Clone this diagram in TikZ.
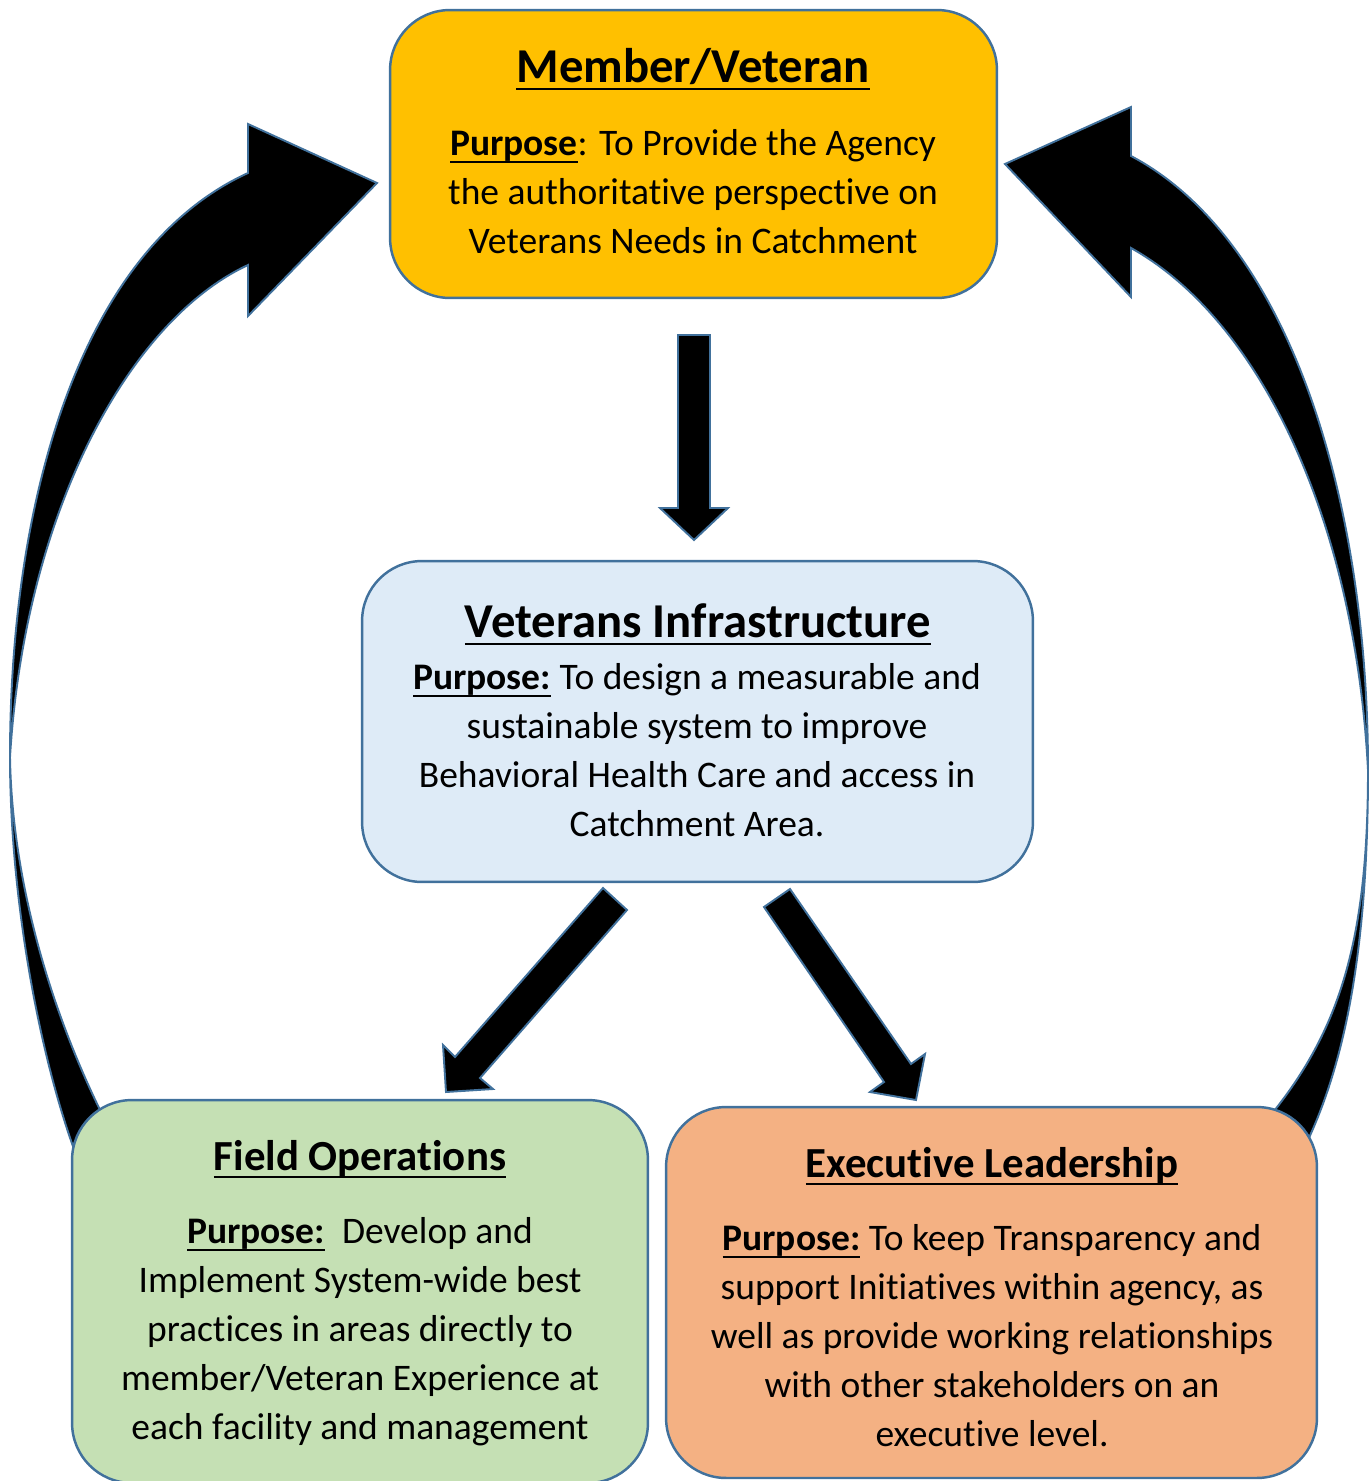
\documentclass[tikz,border=0pt]{standalone}
\usepackage{fontspec}
\setmainfont{Carlito}[Ligatures=NoCommon]
\newsavebox\ulbox
\newcommand{\ulx}[1]{\sbox\ulbox{#1}\rlap{\rule[-4.75pt]{\wd\ulbox}{1.5pt}}\usebox\ulbox}
\definecolor{edgeblue}{HTML}{41719C}
\definecolor{memgold}{HTML}{FFC000}
\definecolor{infrablue}{HTML}{DEEBF7}
\definecolor{fieldgreen}{HTML}{C5E0B4}
\definecolor{execorange}{HTML}{F4B183}
\newcommand{\purp}{\ulx{\textbf{Purpose:}}}
\tikzset{
  panel/.style={draw=edgeblue, line width=1.4pt, rounded corners=1.2cm, inner sep=0pt},
  blockarrow/.style={fill=black, draw=edgeblue, line width=1.1pt, line join=miter},
  heading/.style={anchor=base, inner sep=0pt, font=\bfseries\fontsize{27.7pt}{32pt}\selectfont},
  subheading/.style={anchor=base, inner sep=0pt, font=\bfseries\fontsize{24.4pt}{29pt}\selectfont},
  bodyline/.style={anchor=base, inner sep=0pt, font=\fontsize{21.35pt}{28pt}\selectfont}
}
\begin{document}
\begin{tikzpicture}[x=0.02cm, y=-0.02cm]
\useasboundingbox (0,0) rectangle (1372,1481);

% curved arrows back to the top
\draw[blockarrow] (377,183) -- (248,124) -- (248,173)
  .. controls (80,250) and (10,500) .. (10,757)
  .. controls (10,900) and (40,1060) .. (78,1160)
  -- (104,1118)
  .. controls (50,1010) and (12,880) .. (10,757)
  .. controls (25,510) and (130,320) .. (248,265)
  -- (248,316) -- cycle;
\draw[blockarrow] (1005,164) -- (1131,107) -- (1131,156)
  .. controls (1290,240) and (1368,500) .. (1368,770)
  .. controls (1368,950) and (1345,1060) .. (1308,1140)
  -- (1270,1116)
  .. controls (1340,1030) and (1368,940) .. (1368,770)
  .. controls (1355,520) and (1260,320) .. (1131,248)
  -- (1131,297) -- cycle;

% straight arrows
\draw[blockarrow] (678,335) -- (710,335) -- (710,508) -- (728,508) -- (694,540) -- (660,508) -- (678,508) -- cycle;
\draw[blockarrow] (603,888) -- (627,910) -- (480,1078) -- (493,1089) -- (446,1092) -- (443,1045) -- (455,1057) -- cycle;
\draw[blockarrow] (790,889) -- (911,1064) -- (925,1054) -- (916,1100) -- (870,1092) -- (884,1082) -- (764,907) -- cycle;

% boxes
\node[panel, fill=memgold, minimum width=12.14cm, minimum height=5.76cm] (member) at (693.5,154) {};
\node[panel, fill=infrablue, minimum width=13.42cm, minimum height=6.42cm] (infra) at (697.5,721.5) {};
\node[panel, fill=fieldgreen, minimum width=11.52cm, minimum height=7.66cm] (field) at (360,1291.5) {};
\node[panel, fill=execorange, minimum width=13.02cm, minimum height=7.42cm] (exec) at (991.5,1292.5) {};

% titles
\node[heading] (membertitle) at (693,82) {\ulx{Member/Veteran}};
\node[heading] (infratitle) at (698,637) {\ulx{Veterans Infrastructure}};
\node[subheading] (fieldtitle) at (360,1170) {\ulx{Field Operations}};
\node[subheading] (exectitle) at (992,1177) {\ulx{Executive Leadership}};

% purpose lines
\foreach \txt [count=\i] in {{\ulx{\textbf{Purpose}}: To Provide the Agency},
    {the authoritative perspective on}, {Veterans Needs in Catchment}}
  \node[bodyline] (memberline\i) at (693,{155+49*(\i-1)}) {\txt};
\foreach \txt [count=\i] in {{\purp{} To design a measurable and},
    {sustainable system to improve}, {Behavioral Health Care and access in},
    {Catchment Area.}}
  \node[bodyline] (infraline\i) at (697,{689+49.3*(\i-1)}) {\txt};
\foreach \txt [count=\i] in {{\purp{}~ Develop and}, {Implement System-wide best},
    {practices in areas directly to}, {member/Veteran Experience at},
    {each facility and management}}
  \node[bodyline] (fieldline\i) at (360,{1243+49*(\i-1)}) {\txt};
\foreach \txt [count=\i] in {{\purp{} To keep Transparency and},
    {support Initiatives within agency, as}, {well as provide working relationships},
    {with other stakeholders on an}, {executive level.}}
  \node[bodyline] (execline\i) at (992,{1250+49*(\i-1)}) {\txt};
\end{tikzpicture}
\end{document}
